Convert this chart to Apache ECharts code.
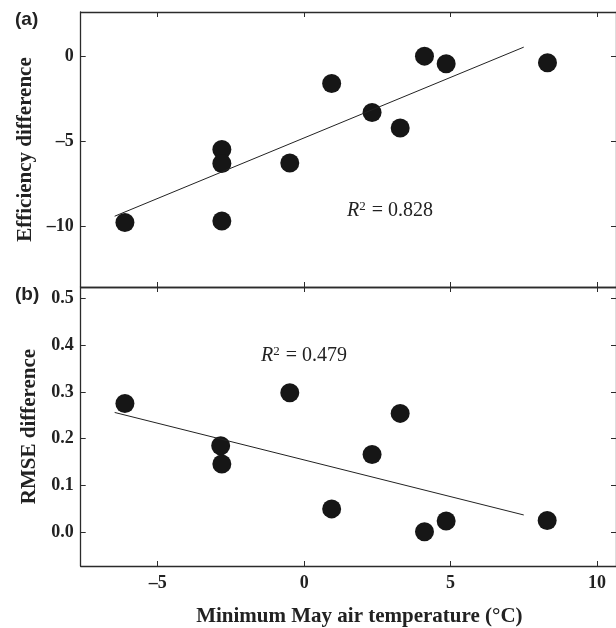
<!DOCTYPE html>
<html>
<head>
<meta charset="utf-8">
<script src="https://cdn.jsdelivr.net/npm/echarts@6/dist/echarts.min.js"></script>
<style>
  html, body { margin: 0; padding: 0; background: #fff; }
  #chart { width: 616px; height: 628px; }
</style>
</head>
<body>
<div id="chart"></div>
<script>
// tick labels
var xTicks = [-5, 0, 5, 10];
var effTicks = [-10, -5, 0];
var rmseTicks = [0, 0.1, 0.2, 0.3, 0.4, 0.5];

// (a) efficiency difference vs minimum May air temperature
var tempA = [-6.12, -2.81, -2.81, -2.81, -0.49, 0.94, 2.32, 3.28, 4.11, 4.85, 8.31];
var effDiff = [-9.8, -5.5, -6.33, -9.71, -6.29, -1.61, -3.32, -4.23, 0.0, -0.45, -0.39];
var fitAx = [-6.47, 7.5];
var fitAy = [-9.43, 0.53];

// (b) RMSE difference
var tempB = [-6.12, -2.85, -2.81, -0.49, 0.94, 2.32, 3.28, 4.11, 4.85, 8.3];
var rmseDiff = [0.275, 0.185, 0.146, 0.298, 0.05, 0.166, 0.254, 0.001, 0.024, 0.025];
var fitBx = [-6.47, 7.5];
var fitBy = [0.256, 0.037];

function zip(a, b) {
    return a.map(function (v, i) { return [v, b[i]]; });
}
function dash(v) {
    return String(v).replace('-', '\u2013');
}

var serif = "'Liberation Serif', 'Times New Roman', serif";
var sans = "'Liberation Sans', Arial, sans-serif";
var lineCol = '#2b2b2b';

var chart = echarts.init(document.getElementById('chart'));

function xAx(grid, pos, labels) {
    return {
        type: 'value', gridIndex: grid, position: pos,
        min: -7.63, max: 10.65,
        axisLine: { show: true, onZero: false, lineStyle: { color: lineCol, width: 1.3 } },
        axisTick: { show: true, inside: true, length: 5, customValues: xTicks, lineStyle: { color: lineCol } },
        axisLabel: {
            show: labels, customValues: xTicks, margin: 8,
            fontFamily: serif, fontWeight: 'bold', fontSize: 18, color: '#222',
            formatter: dash
        },
        splitLine: { show: false }
    };
}
function yAx(grid, pos, min, max, ticks, labels, fmt) {
    return {
        type: 'value', gridIndex: grid, position: pos,
        min: min, max: max,
        axisLine: { show: true, onZero: false, lineStyle: { color: lineCol, width: 1.3 } },
        axisTick: { show: true, inside: true, length: 5, customValues: ticks, lineStyle: { color: lineCol } },
        axisLabel: {
            show: labels, customValues: ticks, margin: 7,
            fontFamily: serif, fontWeight: 'bold', fontSize: 18, color: '#222',
            formatter: fmt
        },
        splitLine: { show: false }
    };
}

var xAxes = [xAx(0, 'bottom', false), xAx(0, 'top', false), xAx(1, 'bottom', true), xAx(1, 'top', false)];
xAxes[2].name = 'Minimum May air temperature (\u00B0C)';
xAxes[2].nameLocation = 'middle';
xAxes[2].nameGap = 40;
xAxes[2].nameTextStyle = { fontFamily: serif, fontWeight: 'bold', fontSize: 21, color: '#222', padding: [0, 0, 0, 22] };

var yAxes = [
    yAx(0, 'left', -13.6, 2.6, effTicks, true, dash),
    yAx(0, 'right', -13.6, 2.6, effTicks, false, dash),
    yAx(1, 'left', -0.072, 0.524, rmseTicks, true, function (v) { return v.toFixed(1); }),
    yAx(1, 'right', -0.072, 0.524, rmseTicks, false, dash)
];
yAxes[0].name = 'Efficiency difference';
yAxes[2].name = 'RMSE difference';
[0, 2].forEach(function (i) {
    yAxes[i].nameLocation = 'middle';
    yAxes[i].nameGap = 39;
    yAxes[i].nameTextStyle = { fontFamily: serif, fontWeight: 'bold', fontSize: 21, color: '#222' };
});
yAxes[2].nameTextStyle.padding = [0, 0, 0, 0];

function dots(xi, yi, data) {
    return {
        type: 'scatter', xAxisIndex: xi, yAxisIndex: yi, data: data,
        symbolSize: 19, itemStyle: { color: '#161616', opacity: 1 }, silent: true
    };
}
function fit(xi, yi, data) {
    return {
        type: 'line', xAxisIndex: xi, yAxisIndex: yi, data: data,
        showSymbol: false, lineStyle: { color: '#222', width: 1 }, silent: true
    };
}

var r2Rich = {
    i: { fontFamily: serif, fontStyle: 'italic', fontSize: 20, fill: '#222', verticalAlign: 'bottom' },
    s: { fontFamily: serif, fontSize: 13, fill: '#222', verticalAlign: 'top', padding: [0, 1, 8, 0] },
    n: { fontFamily: serif, fontSize: 20, fill: '#222' }
};

chart.setOption({
    animation: false,
    backgroundColor: '#fff',
    grid: [
        { left: 80.7, width: 536, top: 12, height: 275 },
        { left: 80.7, width: 536, top: 287, height: 282 }
    ],
    xAxis: xAxes,
    yAxis: yAxes,
    series: [
        fit(0, 0, zip(fitAx, fitAy)),
        dots(0, 0, zip(tempA, effDiff)),
        fit(2, 2, zip(fitBx, fitBy)),
        dots(2, 2, zip(tempB, rmseDiff))
    ],
    graphic: [
        { type: 'text', left: 15, top: 10, style: { text: '(a)', font: 'bold 19px ' + sans, fill: '#222' } },
        { type: 'text', left: 15, top: 285, style: { text: '(b)', font: 'bold 19px ' + sans, fill: '#222' } },
        { type: 'text', left: 347, top: 200, style: { text: '{i|R}{s|2}{n| = 0.828}', rich: r2Rich } },
        { type: 'text', left: 261, top: 345, style: { text: '{i|R}{s|2}{n| = 0.479}', rich: r2Rich } }
    ]
});
</script>
</body>
</html>
